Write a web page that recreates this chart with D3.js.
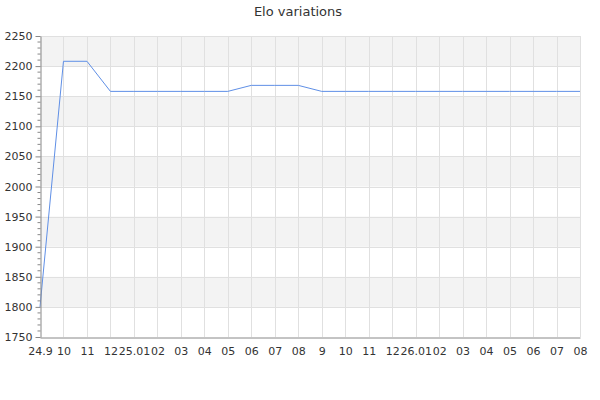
<!DOCTYPE html>
<html><head><meta charset="utf-8">
<script src="https://cdn.jsdelivr.net/npm/d3@7"></script>
<style>body{margin:0;background:#fff}svg{display:block}text{font-family:"DejaVu Sans",sans-serif}</style>
</head><body>
<svg id="c" width="600" height="400"></svg>
<script>
const title = "Elo variations";
const monthLabels = ["24.9","10","11","12","25.01","02","03","04","05","06","07","08","9","10","11","12","26.01","02","03","04","05","06","07","08"];
const eloValues = [1800,2208,2208,2158,2158,2158,2158,2158,2158,2168,2168,2168,2158,2158,2158,2158,2158,2158,2158,2158,2158,2158,2158,2158];
const yTicks = [1750,1800,1850,1900,1950,2000,2050,2100,2150,2200,2250];

const svg = d3.select("#c");
const L = 40, R = 580, T = 36, B = 337;
const x = d3.scaleLinear().domain([0, monthLabels.length - 1]).range([L, R]);
const y = d3.scaleLinear().domain([1750, 2250]).range([B, T]);

// bands
const bands = yTicks.slice(0, -1).filter((v, i) => i % 2 === 1);
svg.append("g").selectAll("rect").data(bands).join("rect")
  .attr("x", L).attr("width", R - L)
  .attr("y", d => y(d + 50)).attr("height", d => y(d) - y(d + 50))
  .attr("fill", "#f3f3f3");

// grid
const g = svg.append("g").attr("stroke", "#e0e0e0").attr("stroke-width", 1).attr("shape-rendering", "crispEdges");
g.selectAll("line.h").data(yTicks.slice(1)).join("line").attr("class", "h")
  .attr("x1", L).attr("x2", R).attr("y1", d => Math.round(y(d)) + 0.5).attr("y2", d => Math.round(y(d)) + 0.5);
g.selectAll("line.v").data(d3.range(1, monthLabels.length)).join("line").attr("class", "v")
  .attr("y1", T).attr("y2", B).attr("x1", d => Math.round(x(d)) + 0.5).attr("x2", d => Math.round(x(d)) + 0.5);

// line
svg.append("path").datum(eloValues)
  .attr("fill", "none").attr("stroke", "#5f8fe6").attr("stroke-width", 1)
  .attr("d", d3.line().x((d, i) => x(i)).y(d => y(d)));

// y axis
const yAxis = d3.axisLeft(y).tickValues(yTicks).tickFormat(d3.format("d")).tickSize(5).tickSizeOuter(0).tickPadding(3);
const ya = svg.append("g").attr("transform", `translate(${L + 0.5},0)`).call(yAxis);
ya.select(".domain").attr("stroke", "#888");
ya.selectAll(".tick line").attr("stroke", "#888");
ya.selectAll("text").attr("font-size", 11).attr("fill", "#333").attr("font-family", "DejaVu Sans");
const minor = d3.range(1750, 2251, 10).filter(v => v % 50 !== 0);
ya.selectAll("line.minor").data(minor).join("line").attr("class", "minor")
  .attr("x1", -3).attr("x2", 0).attr("y1", d => y(d)).attr("y2", d => y(d)).attr("stroke", "#888");

// x axis
const xAxis = d3.axisBottom(x).tickValues(d3.range(monthLabels.length)).tickFormat(i => monthLabels[i]).tickSize(0).tickSizeOuter(0).tickPadding(10);
const xa = svg.append("g").attr("transform", `translate(0,${B + 0.5})`).call(xAxis);
xa.select(".domain").attr("stroke", "#888");
xa.selectAll("text").attr("font-size", 11).attr("fill", "#333").attr("font-family", "DejaVu Sans");

svg.append("text").attr("x", 298).attr("y", 16).attr("text-anchor", "middle")
  .attr("font-size", 13).attr("fill", "#333").text(title);
</script>
</body></html>
